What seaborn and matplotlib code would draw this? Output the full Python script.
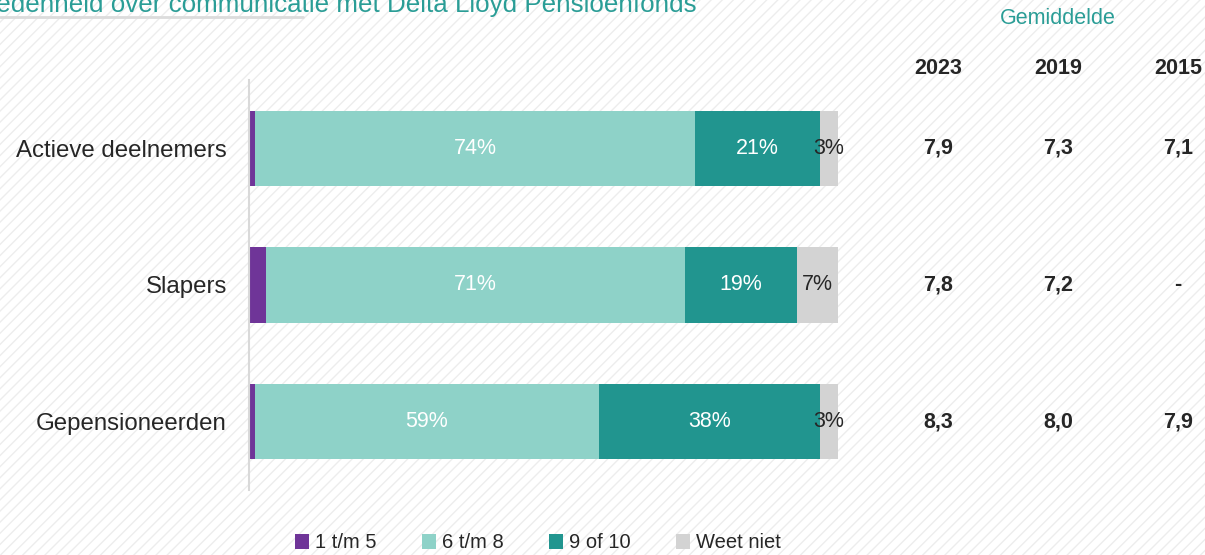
"""
Tevredenheid over communicatie: gestapelde staafgrafiek per groep
met gemiddelde rapportcijfers rechts ernaast.
"""
from matplotlib import pyplot as plt
from matplotlib import transforms
from matplotlib.patches import Patch, Rectangle
import seaborn as sns
import pandas as pd

# Data
groepen = ["Actieve deelnemers", "Slapers", "Gepensioneerden"]
reeksen = ["1 t/m 5", "6 t/m 8", "9 of 10", "Weet niet"]
score_1_5 = [1.0, 2.9, 1.0]
score_6_8 = [74.7, 71.1, 58.4]
score_9_10 = [21.2, 19.0, 37.5]
weet_niet = [3.1, 7.0, 3.1]
labels_6_8 = ["74%", "71%", "59%"]
labels_9_10 = ["21%", "19%", "38%"]
labels_weet_niet = ["3%", "7%", "3%"]
jaren = ["2023", "2019", "2015"]
gem_2023 = ["7,9", "7,8", "8,3"]
gem_2019 = ["7,3", "7,2", "8,0"]
gem_2015 = ["7,1", "-", "7,9"]

kleuren = ["#6f3598", "#8ed2c8", "#21958f", "#d3d3d3"]
teal_tekst = "#2a9d96"
grijs_tekst = "#262626"

sns.set_style("white")
plt.rcParams['font.family'] = ['Liberation Sans', 'DejaVu Sans']
plt.rcParams['hatch.linewidth'] = 1.0

df = pd.DataFrame({"groep": groepen, "s1": score_1_5, "s2": score_6_8,
                   "s3": score_9_10, "s4": weet_niet})
df["c1"] = df["s1"]
df["c2"] = df["c1"] + df["s2"]
df["c3"] = df["c2"] + df["s3"]
df["c4"] = df["c3"] + df["s4"]

fig = plt.figure(figsize=(12.05, 5.55), dpi=100)
# lichte diagonale arcering als achtergrond
fig.add_artist(Rectangle((0, 0), 1, 1, transform=fig.transFigure,
                         facecolor="white", edgecolor="#ededed",
                         hatch="///", linewidth=0, zorder=-10))
ax = fig.add_axes([249 / 1205, 1 - 490 / 555, 589 / 1205, 410 / 555])
ax.patch.set_alpha(0)

# gestapeld: van achter (totaal) naar voor
for kol, kleur in zip(["c4", "c3", "c2", "c1"], kleuren[::-1]):
    sns.barplot(data=df, y="groep", x=kol, color=kleur, width=0.55,
                orient="h", saturation=1, ax=ax, linewidth=0)

ax.set_xlim(0, 100)
ax.set_ylim(2.5, -0.5)
ax.set_xlabel("")
ax.set_ylabel("")
ax.set_xticks([])

# segmentlabels
for i in range(len(groepen)):
    ax.text((df["c1"][i] + df["c2"][i]) / 2, i, labels_6_8[i], ha="center",
            va="center", color="white", fontsize=15.5)
    ax.text((df["c2"][i] + df["c3"][i]) / 2, i, labels_9_10[i], ha="center",
            va="center", color="white", fontsize=15.5)
    ax.text((df["c3"][i] + df["c4"][i]) / 2, i, labels_weet_niet[i],
            ha="center", va="center", color=grijs_tekst, fontsize=15.5)

# assen opmaak
for kant in ["top", "right", "bottom"]:
    ax.spines[kant].set_visible(False)
ax.spines["left"].set_color("#d9d9d9")
ax.spines["left"].set_linewidth(1.5)
ax.set_yticks([-0.5, 0.5, 1.5, 2.5], minor=True)
ax.tick_params(axis="y", which="minor", length=8, color="#d9d9d9", width=1.5)
ax.tick_params(axis="y", which="major", length=0, pad=16,
               labelsize=17.3, labelcolor=grijs_tekst)

# gemiddelden rechts
trans = transforms.blended_transform_factory(fig.transFigure, ax.transData)
kol_x = [938 / 1205, 1058 / 1205, 1178 / 1205]
for x, jaar, waarden in zip(kol_x, jaren, [gem_2023, gem_2019, gem_2015]):
    fig.text(x, 1 - 68 / 555, jaar, ha="center", va="center",
             fontsize=15.5, fontweight="bold", color=grijs_tekst)
    for i, w in enumerate(waarden):
        ax.text(x, i, w, transform=trans, ha="center", va="center",
                fontsize=15.5, fontweight="bold", color=grijs_tekst)
fig.text(1058 / 1205, 1 - 19 / 555, "Gemiddelde", ha="center", va="center",
         fontsize=15.5, color=teal_tekst)

# titel (links afgesneden)
fig.text(697 / 1205, 1 - 12 / 555,
         "Tevredenheid over communicatie met Delta Lloyd Pensioenfonds",
         ha="right", va="baseline", fontsize=18.7, color=teal_tekst)
fig.add_artist(plt.Line2D([0, 303 / 1205], [1 - 16.5 / 555, 1 - 16.5 / 555],
                          color="#dcdcdc", linewidth=2,
                          transform=fig.transFigure))

# legenda
handles = [Patch(facecolor=k, edgecolor="none", label=r)
           for k, r in zip(kleuren, reeksen)]
ax.legend(handles=handles, loc="center", bbox_to_anchor=(0.491, -53 / 410),
          ncol=4, frameon=False, fontsize=14.5, handlelength=0.7,
          handleheight=0.7, handletextpad=0.3, columnspacing=2.25,
          labelcolor=grijs_tekst)

fig.savefig("out.png", dpi=100)
